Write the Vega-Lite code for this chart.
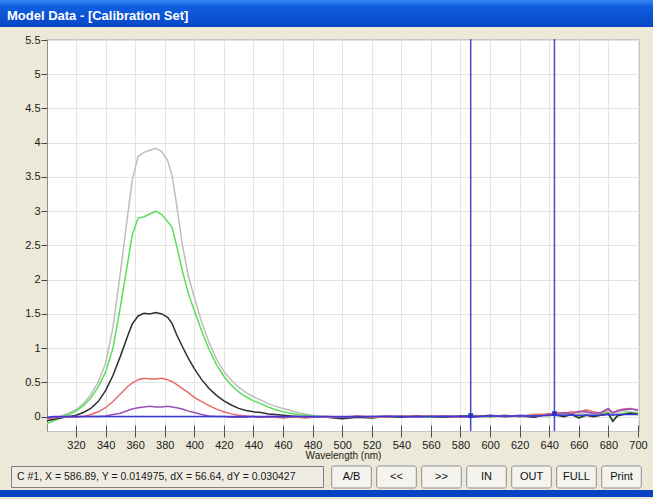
{
  "$schema": "https://vega.github.io/schema/vega-lite/v6.json",
  "background": "#ECE9D8",
  "padding": 0,
  "config": {
    "font": "Liberation Sans, Arial, sans-serif",
    "view": {"stroke": null}
  },
  "spacing": 6,
  "resolve": {"scale": {"x": "independent", "y": "independent"}},
  "vconcat": [
    {
      "width": 653,
      "height": 27,
      "view": {
        "fill": {"gradient": "linear", "x1": 0, "y1": 0, "x2": 0, "y2": 1, "stops": [{"offset": 0, "color": "#3A86F2"}, {"offset": 0.25, "color": "#0F5EE0"}, {"offset": 1, "color": "#0846C4"}]},
        "stroke": null
      },
      "data": {"values": [{"t": "Model Data - [Calibration Set]"}]},
      "mark": {"type": "text", "align": "left", "baseline": "middle", "dx": 7, "dy": 2, "fontSize": 13, "fontWeight": "bold", "color": "white"},
      "encoding": {
        "text": {"field": "t"},
        "x": {"datum": 0, "type": "quantitative", "scale": {"domain": [0, 1]}, "axis": null}
      }
    },
    {
      "spacing": 4,
      "resolve": {"scale": {"x": "independent", "y": "independent"}},
      "vconcat": [
        {
          "spacing": 0,
          "resolve": {"scale": {"x": "independent", "y": "independent"}},
          "hconcat": [
            {
              "width": 1,
              "height": 392,
              "data": {"values": [{"t": ""}]},
              "mark": {"type": "text", "text": ""},
              "encoding": {}
            },
            {
              "width": 592,
              "height": 392,
              "view": {"fill": "white", "stroke": "#C4C4C4"},
              "data": {"values": [
                {"w":300.4,"s1":-0.04,"s2":-0.1,"s3":-0.06,"s4":-0.03,"s5":-0.02,"s6":-0.01},
                {"w":305,"s1":-0.02,"s2":-0.06,"s3":-0.04,"s4":-0.02,"s5":-0.01,"s6":0},
                {"w":310,"s1":0.01,"s2":-0.01,"s3":-0.02,"s4":-0.01,"s5":-0.01,"s6":0},
                {"w":315,"s1":0.05,"s2":0.03,"s3":0,"s4":-0.01,"s5":0,"s6":0},
                {"w":320,"s1":0.1,"s2":0.08,"s3":0.02,"s4":-0.01,"s5":0,"s6":0},
                {"w":325,"s1":0.19,"s2":0.16,"s3":0.06,"s4":0,"s5":0,"s6":0},
                {"w":330,"s1":0.32,"s2":0.27,"s3":0.12,"s4":0.03,"s5":0,"s6":0},
                {"w":335,"s1":0.5,"s2":0.43,"s3":0.22,"s4":0.07,"s5":0,"s6":0},
                {"w":340,"s1":0.78,"s2":0.65,"s3":0.38,"s4":0.13,"s5":0.01,"s6":0},
                {"w":345,"s1":1.3,"s2":1.0,"s3":0.6,"s4":0.22,"s5":0.03,"s6":0},
                {"w":350,"s1":2.1,"s2":1.6,"s3":0.88,"s4":0.33,"s5":0.05,"s6":0},
                {"w":355,"s1":2.95,"s2":2.25,"s3":1.18,"s4":0.44,"s5":0.09,"s6":0},
                {"w":358,"s1":3.45,"s2":2.65,"s3":1.35,"s4":0.49,"s5":0.11,"s6":0},
                {"w":362,"s1":3.8,"s2":2.9,"s3":1.47,"s4":0.54,"s5":0.13,"s6":0},
                {"w":366,"s1":3.86,"s2":2.92,"s3":1.51,"s4":0.56,"s5":0.14,"s6":0},
                {"w":370,"s1":3.89,"s2":2.96,"s3":1.5,"s4":0.55,"s5":0.15,"s6":0},
                {"w":374,"s1":3.92,"s2":3.0,"s3":1.52,"s4":0.55,"s5":0.14,"s6":0},
                {"w":378,"s1":3.87,"s2":2.95,"s3":1.5,"s4":0.56,"s5":0.14,"s6":0},
                {"w":382,"s1":3.74,"s2":2.85,"s3":1.45,"s4":0.54,"s5":0.15,"s6":0},
                {"w":385,"s1":3.52,"s2":2.76,"s3":1.36,"s4":0.51,"s5":0.14,"s6":0},
                {"w":388,"s1":3.1,"s2":2.5,"s3":1.2,"s4":0.47,"s5":0.13,"s6":0},
                {"w":392,"s1":2.5,"s2":2.12,"s3":1.02,"s4":0.41,"s5":0.11,"s6":0},
                {"w":396,"s1":2.05,"s2":1.8,"s3":0.85,"s4":0.35,"s5":0.08,"s6":0},
                {"w":400,"s1":1.74,"s2":1.55,"s3":0.7,"s4":0.28,"s5":0.06,"s6":0},
                {"w":405,"s1":1.38,"s2":1.25,"s3":0.54,"s4":0.22,"s5":0.03,"s6":0},
                {"w":410,"s1":1.08,"s2":0.98,"s3":0.41,"s4":0.16,"s5":0.01,"s6":0},
                {"w":415,"s1":0.84,"s2":0.76,"s3":0.31,"s4":0.11,"s5":0,"s6":0},
                {"w":420,"s1":0.66,"s2":0.59,"s3":0.23,"s4":0.07,"s5":0,"s6":0},
                {"w":425,"s1":0.53,"s2":0.46,"s3":0.17,"s4":0.04,"s5":-0.01,"s6":0},
                {"w":430,"s1":0.43,"s2":0.36,"s3":0.12,"s4":0.02,"s5":-0.01,"s6":0},
                {"w":435,"s1":0.35,"s2":0.29,"s3":0.09,"s4":0.01,"s5":-0.01,"s6":0},
                {"w":440,"s1":0.29,"s2":0.23,"s3":0.07,"s4":0,"s5":0,"s6":0},
                {"w":445,"s1":0.24,"s2":0.19,"s3":0.06,"s4":-0.01,"s5":-0.01,"s6":0},
                {"w":450,"s1":0.19,"s2":0.14,"s3":0.04,"s4":-0.01,"s5":0,"s6":0},
                {"w":455,"s1":0.15,"s2":0.1,"s3":0.03,"s4":-0.01,"s5":0,"s6":0},
                {"w":460,"s1":0.12,"s2":0.07,"s3":0.02,"s4":-0.02,"s5":-0.01,"s6":0},
                {"w":465,"s1":0.09,"s2":0.05,"s3":0.01,"s4":-0.01,"s5":0,"s6":0},
                {"w":470,"s1":0.06,"s2":0.03,"s3":0,"s4":-0.01,"s5":0,"s6":0},
                {"w":475,"s1":0.04,"s2":0.02,"s3":-0.01,"s4":-0.02,"s5":0,"s6":0},
                {"w":480,"s1":0.02,"s2":0.01,"s3":-0.01,"s4":-0.01,"s5":-0.01,"s6":0},
                {"w":490,"s1":0,"s2":-0.01,"s3":-0.01,"s4":-0.01,"s5":0,"s6":0},
                {"w":500,"s1":-0.02,"s2":-0.02,"s3":-0.03,"s4":-0.01,"s5":-0.01,"s6":0},
                {"w":510,"s1":0,"s2":-0.01,"s3":-0.01,"s4":0.01,"s5":0,"s6":0},
                {"w":520,"s1":-0.01,"s2":0,"s3":-0.02,"s4":-0.01,"s5":0,"s6":0},
                {"w":530,"s1":0.01,"s2":-0.01,"s3":0,"s4":-0.01,"s5":0.01,"s6":0},
                {"w":540,"s1":0,"s2":0.01,"s3":-0.01,"s4":0.01,"s5":0,"s6":0},
                {"w":550,"s1":-0.01,"s2":0,"s3":0.01,"s4":0,"s5":-0.01,"s6":0},
                {"w":560,"s1":0.01,"s2":-0.01,"s3":0,"s4":0.01,"s5":0,"s6":0},
                {"w":570,"s1":0,"s2":0.01,"s3":-0.01,"s4":0,"s5":0.01,"s6":0},
                {"w":580,"s1":0.01,"s2":0,"s3":0.01,"s4":-0.01,"s5":0,"s6":0},
                {"w":590,"s1":0,"s2":0.02,"s3":0,"s4":0.01,"s5":-0.01,"s6":0},
                {"w":600,"s1":0.01,"s2":-0.01,"s3":0.02,"s4":0,"s5":0.01,"s6":0.01},
                {"w":610,"s1":-0.01,"s2":0.02,"s3":0,"s4":0.02,"s5":0,"s6":0.01},
                {"w":620,"s1":0.02,"s2":0,"s3":0.01,"s4":0,"s5":0.02,"s6":0.01},
                {"w":630,"s1":0,"s2":0.03,"s3":-0.01,"s4":0.03,"s5":0.01,"s6":0.01},
                {"w":640,"s1":0.03,"s2":0.01,"s3":0.04,"s4":0.04,"s5":0.02,"s6":0.02},
                {"w":645,"s1":0.01,"s2":0.04,"s3":0.02,"s4":0.06,"s5":0.03,"s6":0.02},
                {"w":650,"s1":0.05,"s2":0.02,"s3":0,"s4":0.05,"s5":0.06,"s6":0.02},
                {"w":655,"s1":0.02,"s2":0.05,"s3":0.03,"s4":0.07,"s5":0.04,"s6":0.02},
                {"w":660,"s1":0.04,"s2":0,"s3":-0.02,"s4":0.06,"s5":0.08,"s6":0.02},
                {"w":665,"s1":0.06,"s2":0.03,"s3":0.02,"s4":0.1,"s5":0.07,"s6":0.02},
                {"w":670,"s1":0.03,"s2":0.01,"s3":0,"s4":0.07,"s5":0.05,"s6":0.02},
                {"w":675,"s1":0.05,"s2":0.04,"s3":0.02,"s4":0.05,"s5":0.06,"s6":0.02},
                {"w":680,"s1":0.08,"s2":0.06,"s3":0.04,"s4":0.11,"s5":0.12,"s6":0.03},
                {"w":683,"s1":0.02,"s2":-0.06,"s3":-0.07,"s4":0.06,"s5":0.05,"s6":0.02},
                {"w":686,"s1":0.06,"s2":0.02,"s3":0.01,"s4":0.08,"s5":0.09,"s6":0.03},
                {"w":690,"s1":0.09,"s2":0.05,"s3":0.03,"s4":0.11,"s5":0.1,"s6":0.03},
                {"w":695,"s1":0.07,"s2":0.06,"s3":0.05,"s4":0.12,"s5":0.11,"s6":0.03},
                {"w":700,"s1":0.06,"s2":0.05,"s3":0.03,"s4":0.09,"s5":0.1,"s6":0.03}
              ]},
              "layer": [
                {
                  "transform": [{"fold": ["s1", "s2", "s3", "s4", "s5", "s6"], "as": ["series", "v"]}],
                  "mark": {"type": "line", "strokeWidth": 1.5, "clip": true},
                  "encoding": {
                    "x": {
                      "field": "w", "type": "quantitative",
                      "scale": {"domain": [300.4, 700.7], "nice": false, "zero": false},
                      "axis": {
                        "title": "Wavelength (nm)",
                        "values": [320, 340, 360, 380, 400, 420, 440, 460, 480, 500, 520, 540, 560, 580, 600, 620, 640, 660, 680, 700],
                        "format": "d",
                        "grid": true, "gridColor": "#E4E4E4",
                        "domain": false,
                        "offset": -6, "tickSize": 12, "tickColor": "#505050",
                        "labelPadding": 2, "labelFontSize": 11, "labelColor": "#202020",
                        "labelFlush": false, "labelOverlap": false,
                        "titleFontSize": 10, "titleFontWeight": "normal", "titleColor": "#202020", "titlePadding": 0
                      }
                    },
                    "y": {
                      "field": "v", "type": "quantitative",
                      "scale": {"domain": [-0.21, 5.515], "nice": false, "zero": false},
                      "axis": {
                        "title": null,
                        "values": [0, 0.5, 1, 1.5, 2, 2.5, 3, 3.5, 4, 4.5, 5, 5.5],
                        "format": "~g",
                        "grid": true, "gridColor": "#E4E4E4",
                        "domain": true, "domainColor": "#8C8C8C",
                        "tickSize": 6, "tickColor": "#444444",
                        "labelPadding": 1, "labelFontSize": 11, "labelColor": "#202020",
                        "labelOverlap": false, "labelFlush": false,
                        "minExtent": 45, "maxExtent": 45
                      }
                    },
                    "color": {
                      "field": "series", "type": "nominal",
                      "scale": {"domain": ["s1", "s2", "s3", "s4", "s5", "s6"], "range": ["#BDBDBD", "#5ADF5A", "#2E2E2E", "#E56A6A", "#9A52B8", "#3A3ADB"]},
                      "legend": null
                    }
                  }
                },
                {
                  "data": {"values": [{"w": 586.89, "v": 0.014975}, {"w": 643.53, "v": 0.045402}]},
                  "mark": {"type": "rule", "color": "#4848CC", "strokeWidth": 1.5},
                  "encoding": {
                    "x": {
                      "field": "w", "type": "quantitative",
                      "axis": {
                        "title": "Wavelength (nm)",
                        "values": [320, 340, 360, 380, 400, 420, 440, 460, 480, 500, 520, 540, 560, 580, 600, 620, 640, 660, 680, 700],
                        "format": "d",
                        "grid": true, "gridColor": "#E4E4E4",
                        "domain": false,
                        "offset": -6, "tickSize": 12, "tickColor": "#505050",
                        "labelPadding": 2, "labelFontSize": 11, "labelColor": "#202020",
                        "labelFlush": false, "labelOverlap": false,
                        "titleFontSize": 10, "titleFontWeight": "normal", "titleColor": "#202020", "titlePadding": 0
                      }
                    }
                  }
                },
                {
                  "data": {"values": [{"w": 586.89, "v": 0.014975}, {"w": 643.53, "v": 0.045402}]},
                  "mark": {"type": "point", "shape": "square", "filled": true, "color": "#2E2ED0", "size": 22, "opacity": 1},
                  "encoding": {
                    "x": {
                      "field": "w", "type": "quantitative",
                      "axis": {
                        "title": "Wavelength (nm)",
                        "values": [320, 340, 360, 380, 400, 420, 440, 460, 480, 500, 520, 540, 560, 580, 600, 620, 640, 660, 680, 700],
                        "format": "d",
                        "grid": true, "gridColor": "#E4E4E4",
                        "domain": false,
                        "offset": -6, "tickSize": 12, "tickColor": "#505050",
                        "labelPadding": 2, "labelFontSize": 11, "labelColor": "#202020",
                        "labelFlush": false, "labelOverlap": false,
                        "titleFontSize": 10, "titleFontWeight": "normal", "titleColor": "#202020", "titlePadding": 0
                      }
                    },
                    "y": {
                      "field": "v", "type": "quantitative",
                      "axis": {
                        "title": null,
                        "values": [0, 0.5, 1, 1.5, 2, 2.5, 3, 3.5, 4, 4.5, 5, 5.5],
                        "format": "~g",
                        "grid": true, "gridColor": "#E4E4E4",
                        "domain": true, "domainColor": "#8C8C8C",
                        "tickSize": 6, "tickColor": "#444444",
                        "labelPadding": 1, "labelFontSize": 11, "labelColor": "#202020",
                        "labelOverlap": false, "labelFlush": false,
                        "minExtent": 45, "maxExtent": 45
                      }
                    }
                  }
                }
              ]
            }
          ]
        },
        {
          "spacing": -2,
          "resolve": {"scale": {"x": "independent", "y": "independent"}},
          "vconcat": [
            {
              "spacing": 9,
              "resolve": {"scale": {"x": "independent", "y": "independent"}},
              "hconcat": [
                {
                  "width": 1,
                  "height": 22,
                  "data": {"values": [{"t": ""}]},
                  "mark": {"type": "text", "text": ""},
                  "encoding": {}
                },
                {
                  "spacing": 5,
                  "resolve": {"scale": {"x": "independent", "y": "independent"}},
                  "hconcat": [
                    {
                      "width": 312,
                      "height": 21,
                      "view": {"fill": "#EFEDE3", "stroke": "#7E7E7E"},
                      "data": {"values": [{"t": "C #1,  X = 586.89,  Y = 0.014975,  dX = 56.64,  dY = 0.030427"}]},
                      "mark": {"type": "text", "align": "left", "baseline": "middle", "dx": 6, "fontSize": 10.5, "color": "#1A1A1A"},
                      "encoding": {
                        "text": {"field": "t"},
                        "x": {"datum": 0, "type": "quantitative", "scale": {"domain": [0, 1]}, "axis": null}
                      }
                    },
                    {
                      "width": 315,
                      "height": 22,
                      "data": {"values": [{"b": "A/B"}, {"b": "<<"}, {"b": ">>"}, {"b": "IN"}, {"b": "OUT"}, {"b": "FULL"}, {"b": "Print"}]},
                      "encoding": {
                        "x": {"field": "b", "type": "nominal", "sort": null, "scale": {"paddingInner": 0.12, "paddingOuter": 0.06}, "axis": null}
                      },
                      "layer": [
                        {"mark": {"type": "bar", "fill": "#F4F3EE", "stroke": "#8E8E8E", "strokeWidth": 1, "cornerRadius": 2}},
                        {"mark": {"type": "text", "fontSize": 11, "color": "#111111"}, "encoding": {"text": {"field": "b"}}}
                      ]
                    }
                  ]
                }
              ]
            },
            {
              "width": 653,
              "height": 7,
              "view": {"fill": "#0A42C4", "stroke": null},
              "data": {"values": [{"t": ""}]},
              "mark": {"type": "text", "text": ""},
              "encoding": {}
            }
          ]
        }
      ]
    }
  ]
}
